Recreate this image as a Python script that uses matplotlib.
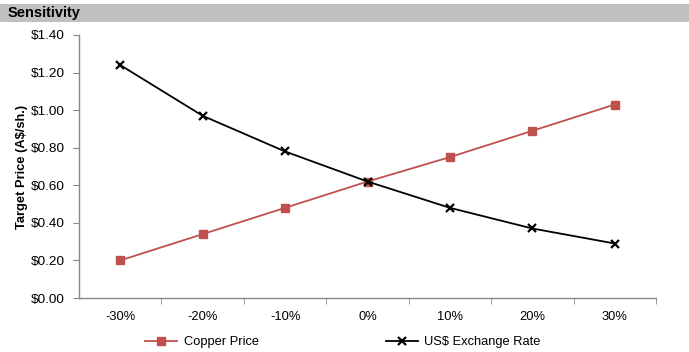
import matplotlib.pyplot as plt
from matplotlib.patches import Rectangle

plt.rcParams['font.family'] = ['Liberation Sans', 'DejaVu Sans']

# Sensitivity of target price to copper price and exchange rate moves
changes = ['-30%', '-20%', '-10%', '0%', '10%', '20%', '30%']
copper_price = [0.20, 0.34, 0.48, 0.62, 0.75, 0.89, 1.03]
us_exchange = [1.24, 0.97, 0.78, 0.62, 0.48, 0.37, 0.29]
y_ticks = [0.0, 0.2, 0.4, 0.6, 0.8, 1.0, 1.2, 1.4]

fig = plt.figure(figsize=(6.89, 3.52), dpi=100)

# Grey header band with the section title
fig.patches.append(Rectangle((0, 1 - 22 / 352), 1, 18 / 352, transform=fig.transFigure,
                             facecolor='#c0c0c0', edgecolor='none', zorder=0))
fig.text(8 / 689, 1 - 13 / 352, 'Sensitivity', fontsize=10.5, fontweight='bold',
         va='center', ha='left')

ax = fig.add_axes([79 / 689, 1 - 298 / 352, 577 / 689, 263 / 352])

x = list(range(len(changes)))
ax.plot(x, copper_price, color='#c0504d', marker='s', markersize=6, linewidth=1.3,
        label='Copper Price', zorder=3)
ax.plot(x, us_exchange, color='black', marker='x', markersize=6, markeredgewidth=1.6,
        linewidth=1.3, label='US$ Exchange Rate', zorder=4)

ax.set_xlim(-0.5, len(changes) - 0.5)
ax.set_ylim(0, 1.4)
ax.set_yticks(y_ticks)
ax.set_yticklabels([f'${v:.2f}' for v in y_ticks])

# Category labels centred, tick marks on the boundaries
ax.set_xticks(x)
ax.set_xticklabels(changes)
ax.set_xticks([i + 0.5 for i in x], minor=True)
ax.tick_params(axis='x', which='major', length=0, pad=9, labelsize=9.3)
ax.tick_params(axis='x', which='minor', length=4, color='#888888', direction='out')
ax.tick_params(axis='y', length=4, color='#888888', labelsize=9.7, pad=6)

for side in ['top', 'right']:
    ax.spines[side].set_visible(False)
for side in ['left', 'bottom']:
    ax.spines[side].set_color('#888888')
    ax.spines[side].set_linewidth(1.0)

ax.set_ylabel('Target Price (A$/sh.)', fontsize=9.3, fontweight='bold')
ax.yaxis.set_label_coords(-51 / 577, 0.5)

fig.legend(loc='center left', bbox_to_anchor=(140 / 689, 1 - 342 / 352), ncol=2,
           frameon=False, fontsize=9.3, handlelength=2.5, columnspacing=9.8,
           handletextpad=0.5, borderaxespad=0)

fig.savefig('out.png', dpi=100)
